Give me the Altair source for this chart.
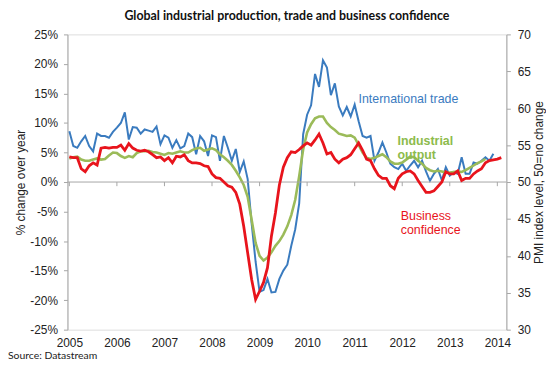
import altair as alt
import pandas as pd

# International trade, % change over year (monthly, Jan 2005 onward)
trade = [8.6, 6.1, 5.8, 6.9, 7.8, 6.1, 5.2, 8.2, 7.8, 7.8, 7.5, 8.5,
         9.2, 10.0, 11.8, 7.2, 9.3, 9.2, 8.2, 8.9, 8.7, 8.5, 9.4, 6.4,
         7.9, 7.5, 5.8, 7.1, 5.7, 6.1, 8.2, 7.6, 4.7, 7.8, 6.9, 4.4,
         7.9, 7.6, 3.6, 7.8, 5.8, 3.6, 5.6, 1.7, 3.5, 0.5, -7.0, -13.5,
         -18.6, -18.3, -16.4, -18.7, -18.6, -16.4, -15.0, -14.0, -10.8, -8.0, -3.6, 8.1,
         11.4, 13.0, 18.3, 16.1, 20.6, 19.4, 14.7, 16.7, 12.8, 11.3, 12.7, 11.1,
         13.1, 10.3, 7.8, 7.5, 7.8, 3.6, 5.0, 6.7, 5.0, 3.1, 2.5, 2.2,
         3.1, 1.9, 2.8, 3.6, 2.5, 3.6, 1.8, 0.2, 1.4, 2.2, 0.3, 2.5,
         1.1, 1.7, 1.4, 4.2, 1.4, 1.4, 3.3, 3.1, 3.6, 4.2, 3.6, 4.8]

# Industrial output, % change over year
output = [4.0, 4.2, 4.3, 3.8, 3.6, 3.6, 3.8, 4.0, 3.8, 3.9, 4.5, 5.0,
          4.9, 4.4, 4.1, 4.4, 4.2, 4.9, 5.2, 5.2, 5.3, 5.1, 5.0, 4.8,
          4.6, 4.9, 4.8, 5.0, 5.2, 5.0, 5.0, 5.4, 5.7, 5.8, 5.3, 5.5,
          5.7, 5.4, 4.7, 4.2, 3.6, 2.9, 1.9, 0.8, -0.5, -2.5, -6.4, -10.3,
          -12.5, -13.3, -12.8, -11.9, -10.8, -10.0, -8.9, -7.5, -5.6, -3.0, 1.0, 5.5,
          8.4, 9.8, 10.8, 11.1, 11.1, 10.0, 9.3, 8.8, 8.2, 8.0, 7.8, 7.9,
          7.5, 6.3, 5.0, 4.1, 3.9, 4.1, 4.4, 4.7, 4.2, 3.5, 3.1, 3.1,
          3.3, 3.8, 4.3, 4.2, 3.6, 3.1, 2.4, 2.0, 1.8, 1.9, 1.8, 1.6,
          1.6, 1.7, 1.8, 1.7, 2.0, 2.4, 2.8, 3.2, 3.5, 3.9]

# Business confidence, PMI index level
confidence = [53.4, 53.3, 53.3, 51.8, 51.4, 52.2, 52.6, 52.3, 54.6, 54.7, 54.6, 54.7,
              54.7, 55.0, 54.3, 55.2, 54.6, 54.3, 54.2, 54.3, 54.1, 53.7, 53.3, 53.4,
              52.9, 53.3, 52.6, 53.5, 53.4, 53.7, 52.9, 52.6, 52.6, 52.5, 52.2, 52.1,
              51.1, 50.6, 50.5, 50.0, 49.5, 49.3, 48.6, 47.0, 44.0, 40.4, 36.8, 34.1,
              35.2, 36.4, 38.4, 42.7, 45.8, 49.6, 52.0, 53.3, 54.1, 54.0, 54.4, 54.9,
              55.3, 55.0, 55.7, 56.5, 55.3, 53.8, 54.0, 53.1, 52.6, 53.1, 53.3, 53.7,
              54.5, 55.3, 54.3, 53.1, 52.9, 51.8, 50.9, 50.5, 50.5, 49.5, 49.1, 50.5,
              51.1, 51.4, 51.5, 51.1, 50.2, 49.4, 48.6, 48.6, 48.8, 49.4, 50.0, 51.4,
              51.1, 51.1, 51.5, 50.2, 50.5, 50.5, 51.1, 51.5, 51.8, 52.6, 52.9, 53.0,
              53.1, 53.3]

years = list(range(2005, 2015))
pct_ticks = [-25, -20, -15, -10, -5, 0, 5, 10, 15, 20, 25]
pmi_ticks = [30, 35, 40, 45, 50, 55, 60, 65, 70]

BLUE = "#3a7bbf"
GREEN = "#9bbb59"
RED = "#e8141c"
GRAY = "#a6a6a6"
AXFONT = "Liberation Sans"


def monthly(values):
    return pd.DataFrame({"t": [2005 + i / 12 for i in range(len(values))], "v": values})


df_trade = monthly(trade)
df_out = monthly(output)
df_conf = monthly(confidence)
df_zero = pd.DataFrame({"v": [0]})
df_years = pd.DataFrame({"t": years, "v": [0] * len(years), "v2": [-0.7] * len(years)})

xscale = alt.Scale(domain=[2004.96, 2014.19], nice=False, zero=False)
yscale_l = alt.Scale(domain=[-25, 25], nice=False, zero=False)
yscale_r = alt.Scale(domain=[30, 70], nice=False, zero=False)

x_axis = alt.Axis(values=years, format="d", title=None, domain=False, ticks=False,
                  labelPadding=8, grid=False, labelFontSize=12, labelOverlap=False,
                  labelFont=AXFONT, labelColor="#222")

y_left_axis = alt.Axis(values=pct_ticks, labelExpr="datum.value + '%'",
                       title="% change over year", grid=False, tickSize=4,
                       labelPadding=6, titlePadding=2, labelFontSize=12,
                       labelOverlap=False, labelFlush=False,
                       labelFont=AXFONT, labelColor="#222",
                       titleFont=AXFONT, titleFontSize=12,
                       titleFontWeight="normal", titleColor="#222",
                       domainColor=GRAY, tickColor=GRAY)

y_right_axis = alt.Axis(orient="right", values=pmi_ticks,
                        title="PMI index level, 50=no change", grid=False, tickSize=4,
                        labelPadding=7, titlePadding=3, titleAngle=270, titleBaseline="top",
                        labelOverlap=False, labelFlush=False,
                        labelFontSize=12, labelFont=AXFONT, labelColor="#222",
                        titleFont=AXFONT, titleFontSize=12,
                        titleFontWeight="normal", titleColor="#222",
                        domainColor=GRAY, tickColor=GRAY)

X = alt.X("t:Q", scale=xscale, axis=x_axis)
YL = alt.Y("v:Q", scale=yscale_l, axis=y_left_axis)

line_trade = alt.Chart(df_trade).mark_line(color=BLUE, strokeWidth=2).encode(x=X, y=YL)
line_out = alt.Chart(df_out).mark_line(color=GREEN, strokeWidth=2.6).encode(x=X, y=YL)

zero_line = alt.Chart(df_zero).mark_rule(color=GRAY, strokeWidth=1).encode(y=YL)

year_ticks = alt.Chart(df_years).mark_rule(color=GRAY, strokeWidth=1).encode(
    x=X, y=YL, y2="v2:Q")

labels = pd.DataFrame({
    "t": [2012.13, 2011.9, 2011.97],
    "v": [14.1, 7.0, -5.7],
    "text": ["International trade", "Industrial\noutput", "Business\nconfidence"],
})

lab_trade = alt.Chart(labels.iloc[[0]]).mark_text(
    color=BLUE, font=AXFONT, fontSize=12.5, align="center", baseline="middle").encode(
    x=X, y=YL, text="text:N")

lab_out = alt.Chart(labels.iloc[[1]]).mark_text(
    color="#8dbb4c", font=AXFONT, fontSize=12.5, fontWeight="bold",
    align="left", baseline="middle", lineBreak="\n", lineHeight=14).encode(
    x=X, y=YL, text="text:N")

lab_conf = alt.Chart(labels.iloc[[2]]).mark_text(
    color=RED, font=AXFONT, fontSize=12.5,
    align="left", baseline="middle", lineBreak="\n", lineHeight=14).encode(
    x=X, y=YL, text="text:N")

source = alt.Chart(pd.DataFrame({"s": ["Source: Datastream"]})).mark_text(
    font="Lato", fontSize=10.5, align="left", baseline="bottom", color="#222").encode(
    text="s:N", x=alt.value(-60), y=alt.value(330))

left = alt.layer(line_trade, line_out, zero_line, year_ticks, lab_trade, lab_out, lab_conf, source)

right = alt.Chart(df_conf).mark_line(color=RED, strokeWidth=2.8).encode(
    x=X, y=alt.Y("v:Q", scale=yscale_r, axis=y_right_axis))

chart = alt.layer(left, right).resolve_scale(y="independent").properties(
    width=443, height=298,
    padding={"left": 60, "top": 25, "right": 40, "bottom": 32},
    autosize=alt.AutoSizeParams(type="none"),
    title=alt.TitleParams("Global industrial production, trade and business confidence",
                          font="Lato", fontSize=12.5, fontWeight="bold", color="#111",
                          anchor="middle", offset=6),
).configure_view(stroke=None).configure_axis(
    labelFont=AXFONT, titleFont=AXFONT
).configure(background="white")

chart.save("out.html", embed_options={"renderer": "svg", "actions": False})
